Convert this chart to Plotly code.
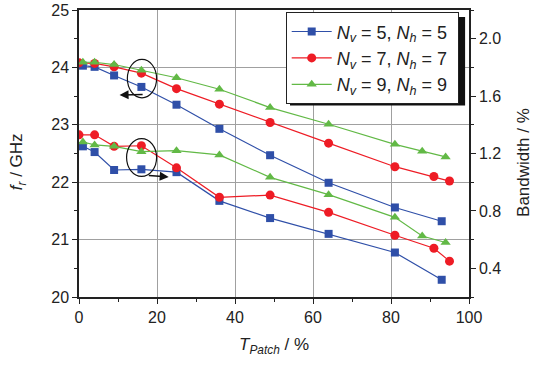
import plotly.graph_objects as go

# T_Patch values (%)
t_blue = [1, 4, 9, 16, 25, 36, 49, 64, 81, 93]
t_red = [0, 4, 9, 16, 25, 36, 49, 64, 81, 91, 95]
t_green = [1, 4, 9, 16, 25, 36, 49, 64, 81, 88, 94]

# resonance frequency f_r (GHz) - left axis
fr_blue = [24.03, 24.01, 23.86, 23.66, 23.35, 22.93, 22.47, 21.99, 21.56, 21.32]
fr_red = [24.08, 24.07, 24.01, 23.90, 23.63, 23.36, 23.04, 22.68, 22.27, 22.10, 22.02]
fr_green = [24.09, 24.09, 24.05, 23.95, 23.82, 23.62, 23.30, 23.01, 22.66, 22.54, 22.44]

# bandwidth (%) - right axis
bw_blue = [1.25, 1.21, 1.085, 1.09, 1.07, 0.87, 0.75, 0.64, 0.51, 0.32]
bw_red = [1.33, 1.33, 1.25, 1.254, 1.10, 0.895, 0.91, 0.79, 0.63, 0.54, 0.45]
bw_green = [1.28, 1.26, 1.25, 1.213, 1.22, 1.19, 1.034, 0.913, 0.755, 0.625, 0.58]

names = ["<i>N<sub>v</sub></i> = 5, <i>N<sub>h</sub></i> = 5&nbsp;",
         "<i>N<sub>v</sub></i> = 7, <i>N<sub>h</sub></i> = 7&nbsp;",
         "<i>N<sub>v</sub></i> = 9, <i>N<sub>h</sub></i> = 9&nbsp;"]
colors = ["#2f4fa8", "#ee1c25", "#62b946"]
symbols = ["square", "circle", "triangle-up"]
sizes = [8, 9, 9]

FONT = "Arial, Liberation Sans, Helvetica, sans-serif"

fig = go.Figure()
series = [(t_blue, fr_blue, bw_blue), (t_red, fr_red, bw_red), (t_green, fr_green, bw_green)]
for i, (t, fr, bw) in enumerate(series):
    fig.add_trace(go.Scatter(
        x=t, y=fr, mode="lines+markers", name=names[i], legendgroup=str(i),
        line=dict(color=colors[i], width=1.2),
        marker=dict(symbol=symbols[i], size=sizes[i], color=colors[i]),
        yaxis="y"))
for i, (t, fr, bw) in enumerate(series):
    fig.add_trace(go.Scatter(
        x=t, y=bw, mode="lines+markers", name=names[i], legendgroup=str(i),
        showlegend=False,
        line=dict(color=colors[i], width=1.2),
        marker=dict(symbol=symbols[i], size=sizes[i], color=colors[i]),
        yaxis="y2"))

axis_common = dict(
    showline=True, linecolor="#222", linewidth=1.5,
    ticks="outside", ticklen=5, tickcolor="#222", tickwidth=1,
    tickfont=dict(family=FONT, size=16, color="#222"),
    zeroline=False, automargin=False,
)

fig.update_layout(
    width=533, height=365,
    margin=dict(l=79, r=64, t=10, b=68),
    plot_bgcolor="white", paper_bgcolor="white",
    font=dict(family=FONT, size=16, color="#222"),
    xaxis=dict(
        range=[0, 100], dtick=20, tick0=0, mirror=True,
        showgrid=True, gridcolor="#a0a0a0", gridwidth=1,
        minor=dict(ticks="outside", ticklen=3, dtick=10, tickcolor="#222", showgrid=False),
        **axis_common),
    yaxis=dict(
        range=[20, 25], dtick=1, tick0=20,
        showgrid=True, gridcolor="#a0a0a0", gridwidth=1,
        minor=dict(ticks="outside", ticklen=3, dtick=0.5, tickcolor="#222", showgrid=False),
        **axis_common),
    yaxis2=dict(
        range=[0.2, 2.2], dtick=0.4, tick0=0.4, overlaying="y", side="right",
        showgrid=False, tickformat=".1f",
        minor=dict(ticks="outside", ticklen=3, dtick=0.2, tick0=0.2, tickcolor="#222", showgrid=False),
        **axis_common),
    legend=dict(
        x=0.53, y=0.992, xanchor="left", yanchor="top",
        bgcolor="white", bordercolor="#222", borderwidth=1,
        font=dict(family=FONT, size=18, color="#222"),
        tracegroupgap=0, itemwidth=40),
    showlegend=True,
)

# axis titles
fig.add_annotation(text="<i>f<sub>r</sub></i> / GHz", xref="paper", yref="paper",
                   x=-0.156, y=0.47, xanchor="center", yanchor="middle",
                   textangle=-90, showarrow=False,
                   font=dict(family=FONT, size=17, color="#222"))
fig.add_annotation(text="Bandwidth / %", xref="paper", yref="paper",
                   x=1.138, y=0.47, xanchor="center", yanchor="middle",
                   textangle=-90, showarrow=False,
                   font=dict(family=FONT, size=17, color="#222"))
fig.add_annotation(text="<i>T<sub>Patch</sub></i> / %", xref="paper", yref="paper",
                   x=0.5, y=-0.125, yanchor="top", showarrow=False,
                   font=dict(family=FONT, size=17, color="#222"))

# legend shadow
fig.add_shape(type="rect", xref="paper", yref="paper",
              x0=0.541, x1=0.99, y0=0.667, y1=0.9756,
              fillcolor="#111", line=dict(width=0), layer="above")

# ellipses
fig.add_shape(type="circle", xref="x", yref="y", x0=12.4, x1=19.9, y0=23.47, y1=24.14,
              line=dict(color="#111", width=1.2))
fig.add_shape(type="circle", xref="x", yref="y", x0=12.2, x1=19.9, y0=22.10, y1=22.76,
              line=dict(color="#111", width=1.2))

# arrows
fig.add_annotation(x=10.4, y=23.52, ax=16.7, ay=23.53, xref="x", yref="y",
                   axref="x", ayref="y", text="", showarrow=True,
                   arrowhead=2, arrowsize=1.2, arrowwidth=1.5, arrowcolor="#111")
fig.add_annotation(x=23.0, y=22.09, ax=17.5, ay=22.12, xref="x", yref="y",
                   axref="x", ayref="y", text="", showarrow=True,
                   arrowhead=2, arrowsize=1.2, arrowwidth=1.5, arrowcolor="#111")

fig.write_html("out.html")
